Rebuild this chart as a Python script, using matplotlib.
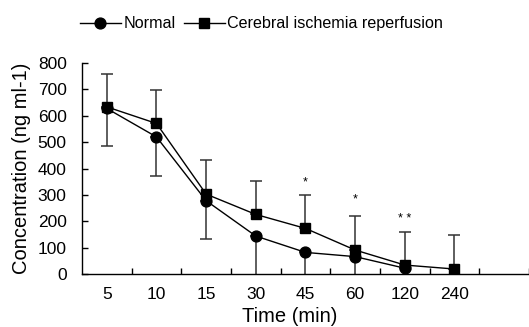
import matplotlib.pyplot as plt
import numpy as np

plt.rcParams['font.family'] = ['Liberation Sans', 'DejaVu Sans']

# data
times = ['5', '10', '15', '30', '45', '60', '120', '240']
normal = [628, 520, 278, 144, 82, 66, 22]
normal_err_low = [144, 149, 147, 150, 90, 70, 30]
cir = [634, 571, 303, 226, 173, 91, 34, 19]
cir_err_up = [125, 126, 131, 127, 126, 129, 124, 129]
stars = {'45': '*', '60': '*', '120': '* *'}
star_y = [347, 284, 208]

x = np.arange(len(times))
xn = x[:len(normal)]

fig = plt.figure(figsize=(5.29, 3.27), dpi=100)
ax = fig.add_axes([0.155, 0.162, 0.845, 0.645])

# error bars (upper for ischemia, lower for normal)
ax.errorbar(x, cir, yerr=[np.zeros(len(cir)), cir_err_up], fmt='none',
            ecolor='#333333', elinewidth=1.1, capsize=4.3, capthick=1.1, zorder=1)
ax.errorbar(xn, normal, yerr=[normal_err_low, np.zeros(len(normal))], fmt='none',
            ecolor='#333333', elinewidth=1.1, capsize=4.3, capthick=1.1, zorder=1)

l1, = ax.plot(xn, normal, color='black', lw=1.0, marker='o', ms=7.8, zorder=3)
l2, = ax.plot(x, cir, color='black', lw=1.0, marker='s', ms=7.6, zorder=3)

for (k, s), yy in zip(stars.items(), star_y):
    ax.text(times.index(k), yy, s, ha='center', va='center', fontsize=9)

ax.set_xlim(-0.5, 8.5)
ax.set_ylim(0, 800)
ax.set_yticks(np.arange(0, 801, 100))
ax.set_xticks(x)
ax.set_xticklabels(times)
ax.set_xticks(np.arange(0.5, 8.6, 1), minor=True)
ax.tick_params(axis='x', which='major', length=0, pad=9, labelsize=12.5)
ax.tick_params(axis='x', which='minor', direction='in', length=4, width=1)
ax.tick_params(axis='y', direction='in', length=4, width=1, pad=11, labelsize=12.5)

for s in ['top', 'right']:
    ax.spines[s].set_visible(False)
ax.spines['left'].set_linewidth(1)
ax.spines['bottom'].set_linewidth(1)

ax.set_ylabel('Concentration (ng ml-1)', fontsize=14.5)
ax.yaxis.label.set_va('center')
ax.yaxis.set_label_coords(-0.135, 0.5)
ax.set_xlabel('Time (min)', fontsize=14.5)
ax.xaxis.label.set_va('center')
ax.xaxis.set_label_coords(0.465, -0.203)

fig.legend([l1, l2], ['Normal', 'Cerebral ischemia reperfusion'], loc='center',
           bbox_to_anchor=(0.494, 0.927), ncol=2, frameon=False, fontsize=11.6,
           handlelength=2.55, handletextpad=0.15, columnspacing=0.5)

fig.savefig('out.png', dpi=100)
